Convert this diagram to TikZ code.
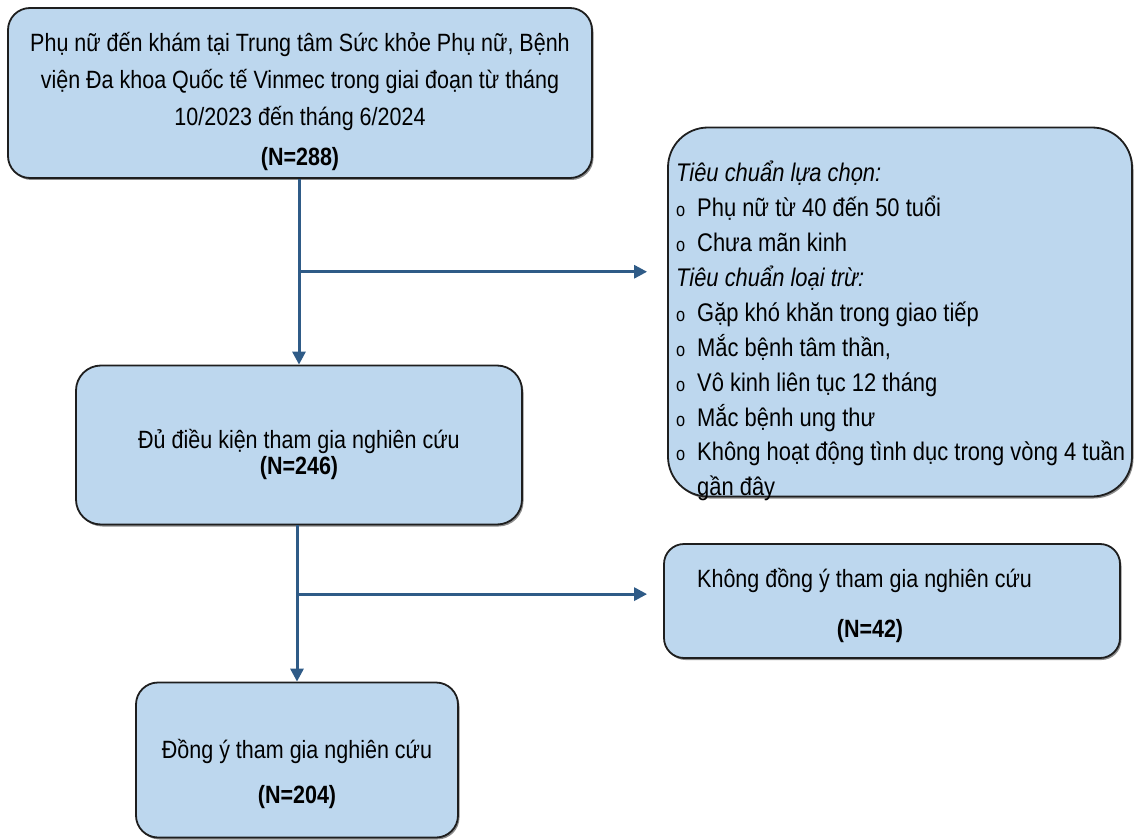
\documentclass[tikz,border=0pt]{standalone}
\usepackage{fontspec}
\setmainfont[FakeStretch=0.86]{Liberation Sans}
\usetikzlibrary{arrows.meta,calc,shadows}
\definecolor{boxfill}{HTML}{BDD7EE}
\definecolor{boxline}{HTML}{1E1E1E}
\definecolor{flow}{HTML}{2F5B87}
\begin{document}
\begin{tikzpicture}[x=1pt,y=-1pt,
  box/.style={draw=boxline,line width=1.8pt,fill=boxfill,
    drop shadow={shadow xshift=1.5pt,shadow yshift=-2pt,opacity=0.45,fill=black},
    inner sep=0pt},
  label text/.style={inner sep=0pt,align=center},
  arr/.style={draw=flow,line width=3pt,-{Triangle[length=13pt,width=13pt]}}]
\useasboundingbox (0,0) rectangle (1136,840);
\newcommand\bul{\makebox[21pt][l]{\fontsize{19}{19}\selectfont o}}

% boxes
\node[box,rounded corners=22pt,minimum width=584pt,minimum height=170pt] (top) at (300,93) {};
\node[box,rounded corners=25pt,minimum width=446pt,minimum height=159pt] (mid) at (299,445) {};
\node[box,rounded corners=22pt,minimum width=322pt,minimum height=155pt] (fin) at (297,760) {};
\node[box,rounded corners=40pt,minimum width=464pt,minimum height=369pt] (crit) at (900,312) {};
\node[box,rounded corners=20pt,minimum width=456pt,minimum height=114pt] (ref) at (892,601) {};

% box texts
\node[label text,font=\fontsize{25}{37}\selectfont] (toptxt) at ($(top.center)+(0,8)$)
  {Phụ nữ đến khám tại Trung tâm Sức khỏe Phụ nữ, Bệnh\\
   viện Đa khoa Quốc tế Vinmec trong giai đoạn từ tháng\\
   10/2023 đến tháng 6/2024\\[3pt]
   \textbf{(N=288)}};

\node[label text,font=\fontsize{25}{26}\selectfont] (midtxt) at ($(mid.center)+(0,9)$)
  {Đủ điều kiện tham gia nghiên cứu\\ \textbf{(N=246)}};

\node[label text,font=\fontsize{25}{45}\selectfont] (fintxt) at ($(fin.center)+(0,14)$)
  {Đồng ý tham gia nghiên cứu\\ \textbf{(N=204)}};

\node[anchor=north west,inner sep=0pt,align=left,font=\fontsize{25.5}{34.9}\selectfont] (crittxt) at (676,161)
  {\textit{Tiêu chuẩn lựa chọn:}\\
   \bul Phụ nữ từ 40 đến 50 tuổi\\
   \bul Chưa mãn kinh\\
   \textit{Tiêu chuẩn loại trừ:}\\
   \bul Gặp khó khăn trong giao tiếp\\
   \bul Mắc bệnh tâm thần,\\
   \bul Vô kinh liên tục 12 tháng\\
   \bul Mắc bệnh ung thư\\
   \bul Không hoạt động tình dục trong vòng 4 tuần\\
   \hspace*{21pt}gần đây};

\node[anchor=west,inner sep=0pt,font=\fontsize{25}{26}\selectfont] (reftxt) at (697,580)
  {Không đồng ý tham gia nghiên cứu};
\node[inner sep=0pt,font=\fontsize{25}{26}\selectfont\bfseries] (refn) at (870,631) {(N=42)};

% flow connectors
\coordinate (s1) at (top.south -| mid.north);
\coordinate (j1) at ($(s1)!0.5!(mid.north)$);
\draw[arr] (s1) -- (mid.north);
\draw[arr,shorten >=20pt] (j1) -- (j1 -| crit.west);

\coordinate (s2) at (mid.south -| fin.north);
\coordinate (j2) at ($(s2)!0.44!(fin.north)$);
\draw[arr] (s2) -- (fin.north);
\draw[arr,shorten >=16pt] (j2) -- (j2 -| ref.west);
\end{tikzpicture}
\end{document}
